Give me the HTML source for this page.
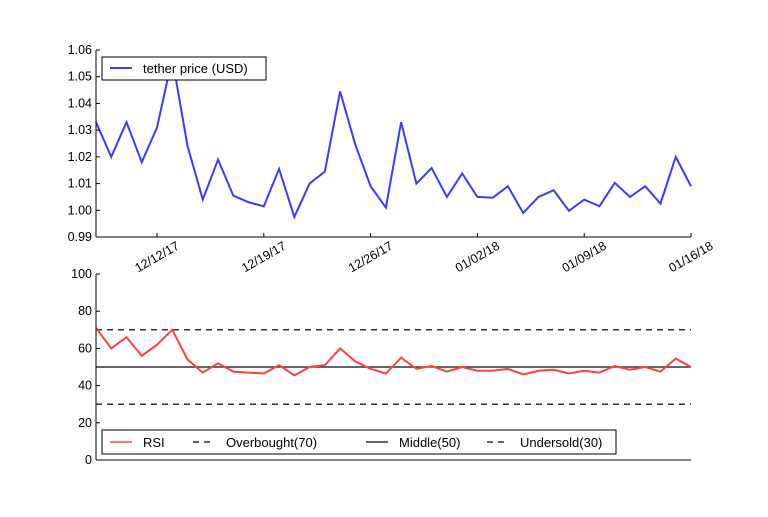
<!DOCTYPE html>
<html><head><meta charset="utf-8"><style>
body{margin:0;background:#fff;}
svg text{font-family:"Liberation Sans","DejaVu Sans",sans-serif;font-size:12.5px;fill:#000;}
</style></head><body>
<svg id="c" width="768" height="512"></svg>
<script>
const dates=["12/12/17","12/19/17","12/26/17","01/02/18","01/09/18","01/16/18"];
const dateIdx=[4,11,18,25,32,39];
const price=[1.033,1.020,1.033,1.018,1.031,1.057,1.024,1.004,1.019,1.0055,1.003,1.0015,1.0155,0.9975,1.010,1.0145,1.0445,1.0245,1.009,1.001,1.033,1.010,1.0158,1.005,1.0138,1.005,1.0047,1.009,0.999,1.005,1.0075,0.9998,1.004,1.0015,1.0103,1.005,1.009,1.0025,1.020,1.009];
const rsi=[71,60,66,56,62,70,54,47,52,47.5,47,46.5,51,45.5,50,51,60,53,49,46.5,55,49,50.5,47.5,50,48,48,49,46,48,48.5,46.5,48,47,50.5,48.5,50,47.5,54.5,50];
const priceTicks=[0.99,1.00,1.01,1.02,1.03,1.04,1.05,1.06];
const rsiTicks=[0,20,40,60,80,100];
const levels=[70,50,30];
const NS="http://www.w3.org/2000/svg",svg=document.getElementById('c');
function el(t,a,p){const e=document.createElementNS(NS,t);for(const k in a)e.setAttribute(k,a[k]);(p||svg).appendChild(e);return e;}
const X0=96,X1=691;
const x=i=>X0+(X1-X0)*i/(price.length-1);
const yP=v=>237-(v-0.99)/(0.07)*187;
const yR=v=>460-v/100*186;
// top
let g=el('g',{});
let p=el('polyline',{points:price.map((v,i)=>x(i)+','+yP(v)).join(' '),fill:'none',stroke:'#3b3bff','stroke-width':2},g);

priceTicks.forEach(v=>{el('line',{x1:X0,x2:X0+4,y1:yP(v),y2:yP(v),stroke:'#000'},g);
 let t=el('text',{x:X0-4,y:yP(v)+4,'text-anchor':'end'},g);t.textContent=v.toFixed(2);});
dates.forEach((d,k)=>{const xx=x(dateIdx[k]);el('line',{x1:xx,x2:xx,y1:237,y2:233,stroke:'#000'},g);
 let t=el('text',{x:xx,y:261,'text-anchor':'middle',transform:`rotate(-30 ${xx} 257)`},g);t.textContent=d;});
el('line',{x1:X0,x2:X0,y1:50,y2:237,stroke:'#000'},g);
el('line',{x1:X0,x2:X1,y1:237,y2:237,stroke:'#000'},g);
let lg=el('g',{},g);
el('rect',{x:102,y:57,width:164,height:23,fill:'#fff',stroke:'#000'},lg);
el('line',{x1:110,x2:132,y1:68,y2:68,stroke:'#3b3bff','stroke-width':2},lg);
let lt=el('text',{x:143,y:73,style:'font-size:13px'},lg);lt.textContent='tether price (USD)';
// bottom
let g2=el('g',{});
levels.forEach(v=>{let l=el('line',{x1:X0,x2:X1,y1:yR(v),y2:yR(v),stroke:'#333','stroke-width':1.5,'stroke-dasharray':v==50?'':'6,5'},g2);});
let r=el('polyline',{points:rsi.map((v,i)=>x(i)+','+yR(v)).join(' '),fill:'none',stroke:'#ff4040','stroke-width':2},g2);

rsiTicks.forEach(v=>{el('line',{x1:X0,x2:X0+4,y1:yR(v),y2:yR(v),stroke:'#000'},g2);
 let t=el('text',{x:X0-4,y:yR(v)+4,'text-anchor':'end'},g2);t.textContent=v;});
el('line',{x1:X0,x2:X0,y1:274,y2:460,stroke:'#000'},g2);
el('line',{x1:X0,x2:X1,y1:460,y2:460,stroke:'#000'},g2);
let lg2=el('g',{},g2);
el('rect',{x:102,y:430,width:514,height:24,fill:'#fff',stroke:'#000'},lg2);
[['RSI','#ff4040','',110,143],['Overbought(70)','#333','6,5',193,226],['Middle(50)','#333','',366,399],['Undersold(30)','#333','6,5',487,520]].forEach(a=>{
 el('line',{x1:a[3],x2:a[3]+22,y1:442,y2:442,stroke:a[1],'stroke-width':1.5,'stroke-dasharray':a[2]},lg2);
 let t=el('text',{x:a[4],y:447,style:'font-size:13px'},lg2);t.textContent=a[0];});
</script>
</body></html>
